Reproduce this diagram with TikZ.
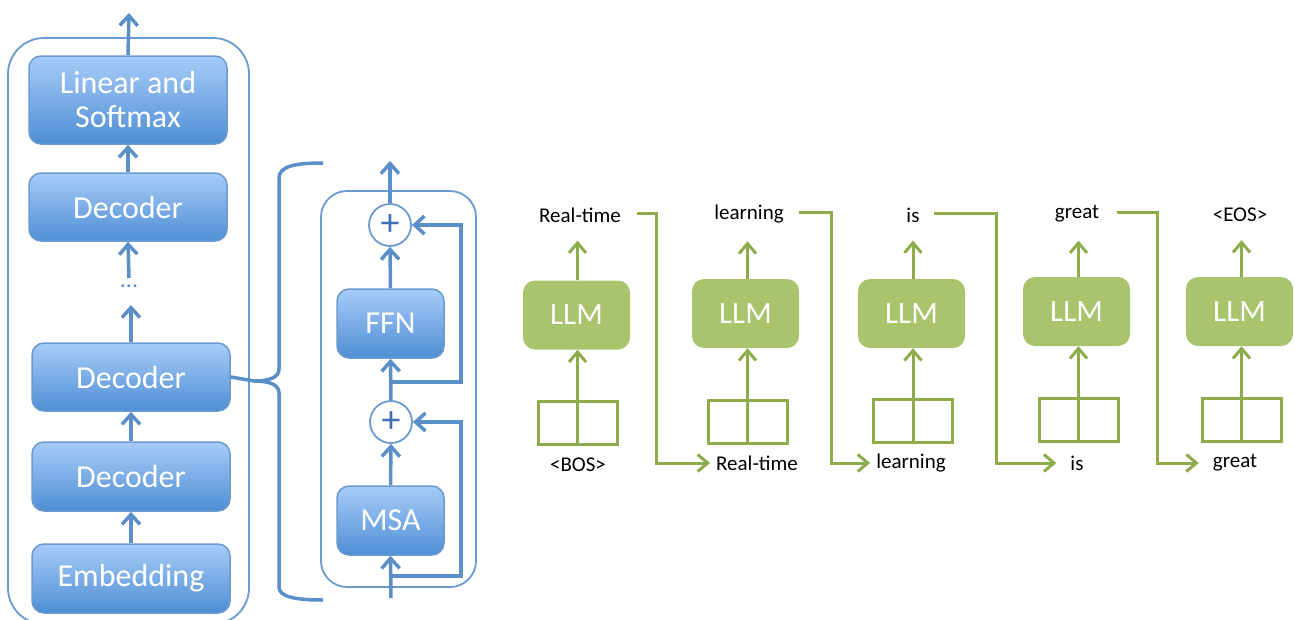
\documentclass[tikz,border=0pt]{standalone}
\usepackage{fontspec}
\setmainfont{Carlito}
\usetikzlibrary{arrows.meta}
\definecolor{bline}{HTML}{5B8FC8}
\definecolor{bedge}{HTML}{6B9AD0}
\definecolor{btop}{HTML}{A7CCF8}
\definecolor{bbot}{HTML}{4F8ED4}
\definecolor{bplus}{HTML}{3F6FB6}
\definecolor{gfill}{HTML}{A9C46C}
\definecolor{gline}{HTML}{8EAC4C}
\tikzset{
  bbox/.style={draw=bedge,line width=1.5pt,rounded corners=12pt,top color=btop,bottom color=bbot,
    text=white,font=\fontsize{32}{35}\selectfont,align=center,inner sep=0pt},
  barrow/.style={draw=bline,line width=3.5pt,-{Straight Barb[length=10pt,width=18pt]}},
  bplain/.style={draw=bline,line width=3.5pt},
  frame/.style={draw=bedge,line width=1.8pt},
  plusc/.style={circle,draw=bedge,line width=1.8pt,fill=white,minimum size=42pt,inner sep=0pt,
    text=bplus,font=\fontsize{38}{38}\selectfont},
  llm/.style={fill=gfill,rounded corners=12pt,minimum width=107pt,minimum height=69pt,
    text=white,font=\fontsize{31}{32}\selectfont,inner sep=0pt},
  garrow/.style={draw=gline,line width=3pt,-{Straight Barb[length=10pt,width=17pt]}},
  cellbox/.style={draw=gline,line width=3pt,minimum width=79pt,minimum height=43pt,inner sep=0pt},
  glab/.style={font=\fontsize{21}{23}\selectfont,text=black,inner sep=0pt},
}
\begin{document}
\begin{tikzpicture}[x=1pt,y=-1pt]
\useasboundingbox (0,0) rectangle (1295,619);
% ---------- left stack ----------
\draw[frame,rounded corners=36pt] (8,38) rectangle (249,624);
\node[bbox,minimum width=198pt,minimum height=88pt] (lin) at (128,100) {Linear and\\[-1pt]Softmax};
\node[bbox,minimum width=198pt,minimum height=68pt] (dec1) at (128,207) {Decoder};
\node[text=bline,font=\fontsize{24}{24}\selectfont,inner sep=0pt] (dots) at (129,286) {...};
\node[bbox,minimum width=198pt,minimum height=68pt] (dec2) at (131,377) {Decoder};
\node[bbox,minimum width=198pt,minimum height=69pt] (dec3) at (131,476.5) {Decoder};
\node[bbox,minimum width=198pt,minimum height=69pt] (emb) at (131,578.5) {Embedding};
\coordinate (topout) at (129,13);
\coordinate (dotsup) at (129,278);
\coordinate (dotsdn) at (131,305);
\draw[barrow] (emb.north) -- (dec3.south);
\draw[barrow] (dec3.north) -- (dec2.south);
\draw[barrow] (dec2.north) -- (dotsdn);
\draw[barrow] (dotsup) -- (dec1.south);
\draw[barrow] (dec1.north) -- (lin.south);
\draw[barrow] (lin.north) -- (topout);
% ---------- brace ----------
\coordinate (tip) at (254,381);
\draw[bplain] (dec2.east) -- (tip);
\draw[bplain] (323,163) .. controls (296,163) and (279,166) .. (279,178) -- (279,369)
   .. controls (279,378) and (268,381) .. (tip)
   .. controls (268,381) and (279,384) .. (279,393) -- (279,587)
   .. controls (279,597) and (296,600) .. (323,600);
% ---------- decoder detail ----------
\draw[frame,rounded corners=26pt] (321,191) rectangle (476,587);
\node[bbox,minimum width=107pt,minimum height=69pt] (ffn) at (390.5,323.5) {FFN};
\node[bbox,minimum width=107pt,minimum height=69pt] (msa) at (390.5,520.5) {MSA};
\node[plusc] (p2) at (390,225) {+};
\node[plusc] (p1) at (391,422) {+};
\coordinate (in) at (391,598);
\coordinate (out) at (390,161);
\coordinate (r1) at (391,576);
\coordinate (r2) at (391,382);
\coordinate (rx) at (461,0);
\draw[barrow] (in) -- (msa.south);
\draw[barrow] (msa.north) -- (p1.south);
\draw[barrow] (p1.north) -- (ffn.south);
\draw[barrow] (ffn.north) -- (p2.south);
\draw[barrow] (p2.north) -- (out);
\draw[barrow] (r1) -- (r1 -| rx) -- (rx |- p1.east) -- (p1.east);
\draw[barrow] (r2) -- (r2 -| rx) -- (rx |- p2.east) -- (p2.east);
% ---------- LLM chain ----------
% block 1
\node[llm] (l1) at (576.5,315) {LLM};
\node[glab] (t1) at (580,215) {Real-time};
\node[cellbox] (c1) at (577.5,423) {};
\node[glab] (b1) at (578,465) {<BOS>};
% block 2
\node[llm] (l2) at (745.5,313.5) {LLM};
\node[glab] (t2) at (749,214) {learning};
\node[cellbox] (c2) at (747.5,421.5) {};
\node[glab] (b2) at (757,463) {Real-time};
% block 3
\node[llm] (l3) at (911.5,313.5) {LLM};
\node[glab] (t3) at (913,215) {is};
\node[cellbox] (c3) at (913,420.5) {};
\node[glab] (b3) at (911,463) {learning};
% block 4
\node[llm] (l4) at (1076.5,311.5) {LLM};
\node[glab] (t4) at (1077,214) {great};
\node[cellbox] (c4) at (1078.5,419.5) {};
\node[glab] (b4) at (1077,463) {is};
% block 5
\node[llm] (l5) at (1239.5,311.5) {LLM};
\node[glab] (t5) at (1240,215) {<EOS>};
\node[cellbox] (c5) at (1241.5,419.5) {};
\node[glab] (b5) at (1235,463) {great};
\foreach \i in {1,...,5}{
  \draw[draw=gline,line width=3pt] (c\i.north) -- (c\i.south);
  \draw[garrow] (c\i.north) -- (c\i.north |- l\i.south);
  \draw[garrow] (c\i.north |- l\i.north) -- ([yshift=-18pt]c\i.north |- t\i.south);
}
% connectors
\coordinate (k1) at (656,0);
\coordinate (k2) at (831,0);
\coordinate (k3) at (996,0);
\coordinate (k4) at (1157,0);
\coordinate (s1) at (637,213);
\coordinate (s2) at (799,212);
\coordinate (s3) at (934,213);
\coordinate (s4) at (1117,212);
\draw[garrow] (s1) -- (s1 -| k1) -- (k1 |- b2.west) -- ([xshift=-6pt]b2.west);
\draw[garrow] (s2) -- (s2 -| k2) -- (k2 |- b3.west) -- ([xshift=-6pt]b3.west);
\draw[garrow] (s3) -- (s3 -| k3) -- (k3 |- b4.west) -- ([xshift=-14pt]b4.west);
\draw[garrow] (s4) -- (s4 -| k4) -- (k4 |- b5.west) -- ([xshift=-14pt]b5.west);
\end{tikzpicture}
\end{document}
